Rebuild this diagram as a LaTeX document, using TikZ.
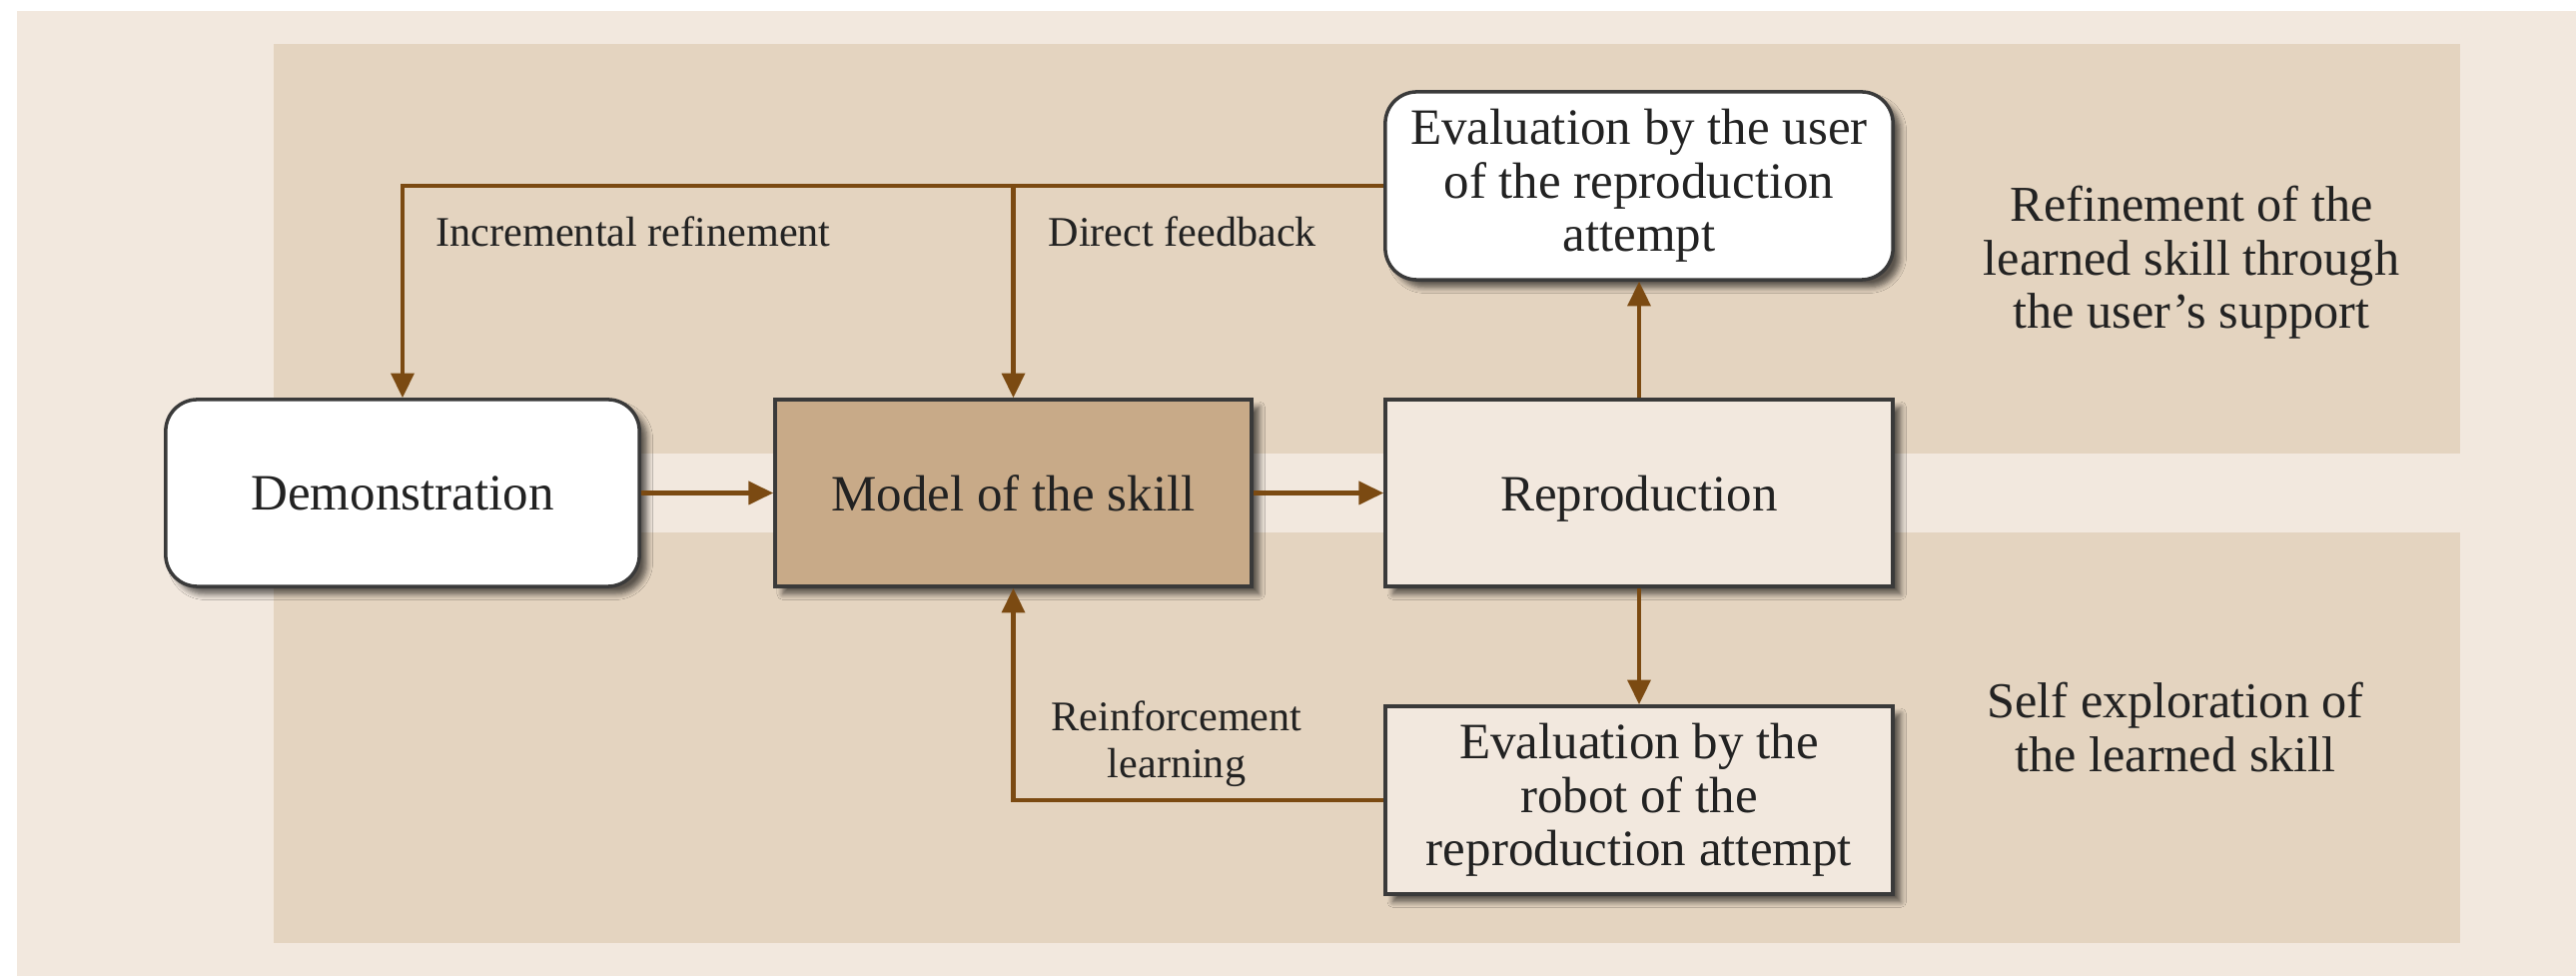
\documentclass[tikz,border=0pt]{standalone}
\usepackage{fontspec}
\setmainfont{Liberation Serif}
\usetikzlibrary{arrows.meta,shadows.blur}
\definecolor{lightbg}{HTML}{F2E8DE}
\definecolor{darkbg}{HTML}{E4D4C0}
\definecolor{modelfill}{HTML}{C8AA88}
\definecolor{arrowcol}{HTML}{7B4A12}
\definecolor{edgecol}{HTML}{3A3A3A}
\definecolor{textcol}{HTML}{222222}
\begin{document}
\begin{tikzpicture}[x=0.01cm,y=-0.01cm,
  box/.style={draw=edgecol, line width=1pt, minimum height=1.87cm, inner sep=0pt,
    align=center, font=\fontsize{14.5}{15.2}\selectfont, text=textcol,
    blur shadow={shadow xshift=2.2pt, shadow yshift=-2.2pt, shadow blur steps=6,
      shadow opacity=60, shadow blur radius=1.6pt}},
  oneline/.style={text depth=0pt},
  roundbox/.style={box, rounded corners=9pt, fill=white},
  lightbox/.style={box, fill=lightbg},
  modelbox/.style={box, fill=modelfill},
  arr/.style={draw=arrowcol, line width=1.15pt, -{Triangle[length=7pt,width=6.5pt]}},
  smalllabel/.style={font=\fontsize{12}{13.4}\selectfont, text=textcol, inner sep=0pt},
  sidelabel/.style={font=\fontsize{14.3}{15.2}\selectfont, text=textcol, align=center, inner sep=0pt}
]
\useasboundingbox (0,0) rectangle (2579,977);
% backgrounds
\fill[lightbg] (17,11) rectangle (2579,977);
\fill[darkbg] (274,44) rectangle (2463,454);
\fill[darkbg] (274,533) rectangle (2463,944);

% boxes
\node[roundbox, oneline, minimum width=4.74cm] (demo) at (403,493.5) {Demonstration};
\node[modelbox, oneline, minimum width=4.77cm] (model) at (1014.5,493.5) {Model of the skill};
\node[lightbox, oneline, minimum width=5.08cm] (repro) at (1641,493.5) {Reproduction};
\node[roundbox, minimum width=5.08cm, minimum height=1.88cm] (evu) at (1641,186)
  {Evaluation by the user\\of the reproduction\\attempt};
\node[lightbox, minimum width=5.08cm, minimum height=1.88cm] (evr) at (1641,801)
  {Evaluation by the\\robot of the\\reproduction attempt};

% connectors
\draw[arr] (demo.east) -- (model.west);
\draw[arr] (model.east) -- (repro.west);
\draw[arr] (repro.north) -- (evu.south);
\draw[arr] (repro.south) -- (evr.north);
\draw[arr] (evu.west) -| (demo.north);
\draw[arr] (evu.west -| model.north) -- (model.north);
\draw[arr] (evr.west) -| (model.south);

% labels
\node[smalllabel, anchor=west] (lincr) at (436,232) {Incremental refinement};
\node[smalllabel, anchor=west] (ldirect) at (1049,232) {Direct feedback};
\node[smalllabel, align=center] (lreinf) at (1178,745) {Reinforcement\\learning};
\node[sidelabel] (lrefine) at (2194,263) {Refinement of the\\learned skill through\\the user's support};
\node[sidelabel] (lself) at (2178,728) {Self exploration of\\the learned skill};
\end{tikzpicture}
\end{document}
